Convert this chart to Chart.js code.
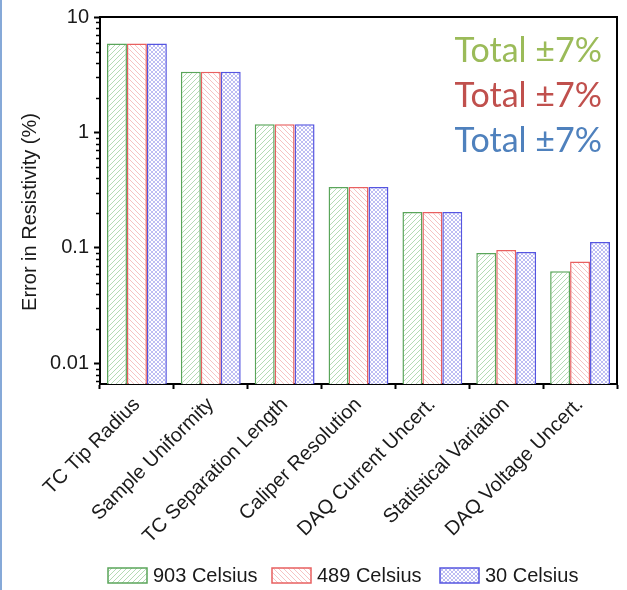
<!DOCTYPE html>
<html>
<head>
<meta charset="utf-8">
<script src="https://cdn.jsdelivr.net/npm/chart.js@4/dist/chart.umd.min.js"></script>
<style>
  html, body { margin: 0; padding: 0; background: #fff; }
  #wrap { position: relative; width: 627px; height: 590px; }
  #edge { position: absolute; left: 0; top: 0; width: 2px; height: 590px; background: #86a9d8; }
</style>
</head>
<body>
<div id="wrap">
  <canvas id="c" width="627" height="590"></canvas>
  <div id="edge"></div>
</div>
<script>
// Error budget per source, in percent
const categories = [
  'TC Tip Radius', 'Sample Uniformity', 'TC Separation Length',
  'Caliper Resolution', 'DAQ Current Uncert.', 'Statistical Variation',
  'DAQ Voltage Uncert.'
];
const seriesNames = ['903 Celsius', '489 Celsius', '30 Celsius'];
const values903 = [5.9, 3.36, 1.18, 0.338, 0.205, 0.0906, 0.0630];
const values489 = [5.9, 3.36, 1.18, 0.338, 0.205, 0.0961, 0.0762];
const values30  = [5.9, 3.36, 1.18, 0.338, 0.205, 0.0924, 0.1127];
const yTickLabels = ['10', '1', '0.1', '0.01'];
const totalNotes = ['Total ±7%', 'Total ±7%', 'Total ±7%'];

const yMin = 0.00664;
const yMax = 10;

const FONT = '"Liberation Sans", Arial, sans-serif';
const canvas = document.getElementById('c');
const ctx = canvas.getContext('2d');

// hatch fills: forward slashes, back slashes, cross-hatch
function makeHatch(kind, color, size) {
  const t = document.createElement('canvas');
  t.width = t.height = size;
  const g = t.getContext('2d');
  g.fillStyle = '#fff';
  g.fillRect(0, 0, size, size);
  g.strokeStyle = color;
  g.lineWidth = 1;
  const fwd = () => {
    g.beginPath();
    g.moveTo(-1, size + 1); g.lineTo(size + 1, -1);
    g.moveTo(-1, 1); g.lineTo(1, -1);
    g.moveTo(size - 1, size + 1); g.lineTo(size + 1, size - 1);
    g.stroke();
  };
  const back = () => {
    g.beginPath();
    g.moveTo(-1, -1); g.lineTo(size + 1, size + 1);
    g.moveTo(size - 1, -1); g.lineTo(size + 1, 1);
    g.moveTo(-1, size - 1); g.lineTo(1, size + 1);
    g.stroke();
  };
  if (kind === 'fwd' || kind === 'cross') fwd();
  if (kind === 'back' || kind === 'cross') back();
  return ctx.createPattern(t, 'repeat');
}

const styles = [
  { fill: makeHatch('fwd', 'rgba(130,195,130,0.6)', 5), border: '#5aa55a' },
  { fill: makeHatch('back', 'rgba(240,155,155,0.6)', 5), border: '#e86060' },
  { fill: makeHatch('cross', 'rgba(145,145,235,0.6)', 4), border: '#5555e0' }
];
const seriesValues = [values903, values489, values30];

function isDecade(v) {
  const e = Math.log10(v);
  return Math.abs(e - Math.round(e)) < 1e-6;
}

// top and right frame lines, plus short minor ticks (2..9 per decade) on the log axis
const framePlugin = {
  id: 'frame',
  afterDraw(chart) {
    const a = chart.chartArea;
    const c = chart.ctx;
    const ys = chart.scales.y;
    c.save();
    c.strokeStyle = '#000';
    c.lineWidth = 2;
    c.beginPath();
    c.moveTo(a.left - 1, a.top);
    c.lineTo(a.right, a.top);
    c.lineTo(a.right, a.bottom + 1);
    c.stroke();
    c.lineWidth = 1.5;
    c.beginPath();
    for (let e = Math.floor(Math.log10(yMin)); e < Math.log10(yMax); e++) {
      for (let m = 2; m <= 9; m++) {
        const v = m * Math.pow(10, e);
        if (v <= yMin || v >= yMax) continue;
        const py = Math.round(ys.getPixelForValue(v)) + 0.5;
        c.moveTo(a.left - 4, py);
        c.lineTo(a.left, py);
      }
    }
    c.stroke();
    c.restore();
  }
};

// y-axis title
const yTitlePlugin = {
  id: 'yTitle',
  afterDraw(chart) {
    const c = chart.ctx;
    c.save();
    c.translate(30, 212);
    c.rotate(-Math.PI / 2);
    c.font = '20px ' + FONT;
    c.fillStyle = '#1a1a1a';
    c.textAlign = 'center';
    c.textBaseline = 'middle';
    c.fillText('Error in Resistivity (%)', 0, 0);
    c.restore();
  }
};

// coloured totals, top right
const totalsPlugin = {
  id: 'totals',
  afterDraw(chart) {
    const c = chart.ctx;
    const colors = ['#9bbb59', '#c0504d', '#4f81bd'];
    c.save();
    c.font = '34px Lato, "Open Sans", sans-serif';
    c.textAlign = 'right';
    c.textBaseline = 'alphabetic';
    totalNotes.forEach((t, i) => {
      c.fillStyle = colors[i];
      c.fillText(t, 602, 62 + i * 45);
    });
    c.restore();
  }
};

// legend row beneath the axis labels
const legendPlugin = {
  id: 'legendRow',
  afterDraw(chart) {
    const c = chart.ctx;
    const xs = [108, 272, 440];
    c.save();
    c.font = '20px ' + FONT;
    c.textBaseline = 'middle';
    c.textAlign = 'left';
    chart.data.datasets.forEach((ds, i) => {
      const x = xs[i], y = 568;
      c.fillStyle = ds.backgroundColor;
      c.fillRect(x, y, 39, 15);
      c.strokeStyle = ds.borderColor;
      c.lineWidth = 1.5;
      c.strokeRect(x, y, 39, 15);
      c.fillStyle = '#1a1a1a';
      c.fillText(ds.label, x + 45, y + 8);
    });
    c.restore();
  }
};

new Chart(ctx, {
  type: 'bar',
  data: {
    labels: categories,
    datasets: seriesNames.map((name, i) => ({
      label: name,
      data: seriesValues[i],
      backgroundColor: styles[i].fill,
      borderColor: styles[i].border,
      borderWidth: 1.5,
      borderSkipped: 'start'
    }))
  },
  options: {
    responsive: false,
    animation: false,
    devicePixelRatio: 1,
    layout: { padding: { top: 15, right: 10, left: 0, bottom: 0 } },
    datasets: { bar: { categoryPercentage: 0.81, barPercentage: 1 } },
    plugins: { legend: { display: false }, tooltip: { enabled: false } },
    scales: {
      x: {
        grid: { display: true, offset: true, drawOnChartArea: false, tickLength: 5, tickWidth: 2, tickColor: '#000' },
        border: { display: true, color: '#000', width: 2 },
        ticks: {
          font: { family: FONT, size: 20 }, color: '#1a1a1a',
          maxRotation: 45, minRotation: 45, autoSkip: false, padding: 4
        },
        afterFit(s) { s.height = 206; }
      },
      y: {
        type: 'logarithmic',
        min: yMin, max: yMax,
        grid: {
          drawOnChartArea: false, tickLength: 6, tickWidth: 2,
          tickColor: c => (c.tick && isDecade(c.tick.value)) ? '#000' : 'rgba(0,0,0,0)'
        },
        border: { display: true, color: '#000', width: 2 },
        ticks: {
          autoSkip: false,
          font: { family: FONT, size: 20 }, color: '#1a1a1a', padding: 5,
          callback(v) {
            if (!isDecade(v)) return '';
            const lab = yTickLabels.find(l => Math.abs(Number(l) - v) < v * 1e-6);
            return lab === undefined ? '' : lab;
          }
        },
        afterFit(s) { s.width = 100; }
      }
    }
  },
  plugins: [framePlugin, yTitlePlugin, totalsPlugin, legendPlugin]
});
</script>
</body>
</html>
